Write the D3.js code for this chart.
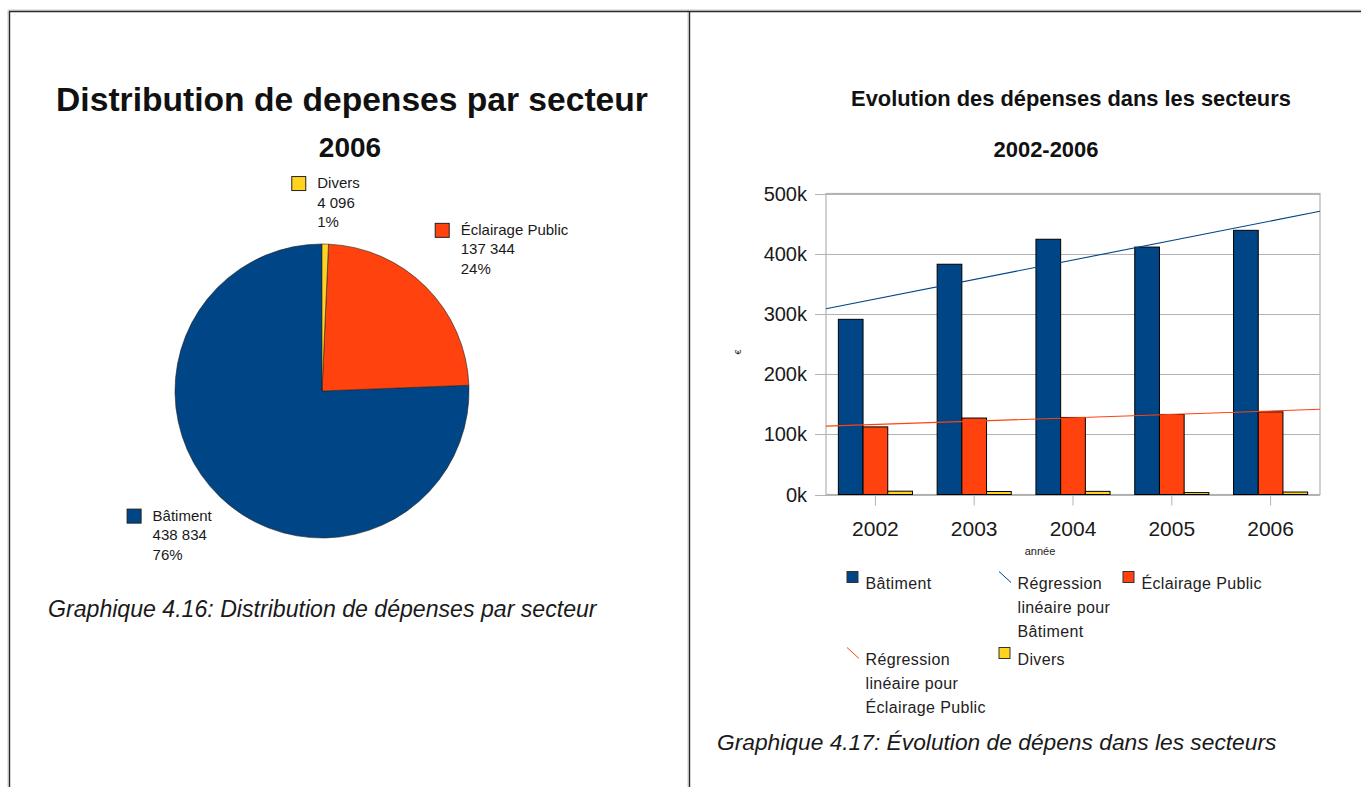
<!DOCTYPE html>
<html lang="fr">
<head>
<meta charset="utf-8"/>
<title>Dépenses par secteur</title>
<style>
    body { margin: 0; background: #fff; }
    svg { display: block; }
    .grid line { stroke: #b3b3b3; stroke-width: 1; }
    .bar { stroke: #000; stroke-width: 1; }
</style>
</head>
<body>
<svg id="page" width="1361" height="787"></svg>
<script src="https://cdnjs.cloudflare.com/ajax/libs/d3/7.8.5/d3.min.js"></script>
<script>
    // --- pie data (2006)
    var pieCategories = ["Bâtiment", "Éclairage Public", "Divers"];
    var pieValues = [438834, 137344, 4096];

    // --- bar data (2002-2006)
    var years = ["2002", "2003", "2004", "2005", "2006"];
    var batiment = [291000, 382500, 424000, 411000, 438834];
    var eclairage = [112300, 127000, 128000, 133000, 137344];
    var divers = [5500, 5000, 5200, 3200, 4096];
    var yTicks = [0, 100000, 200000, 300000, 400000, 500000];

    var colors = { "Bâtiment": "#004586", "Éclairage Public": "#ff420e", "Divers": "#ffd320" };

    var svg = d3.select("#page");
    var font = '"Liberation Sans", Arial, sans-serif';

    // make a text element reach a given width
    function fit(t, w) {
        var s = parseFloat(t.attr("font-size"));
        t.attr("font-size", s * w / t.node().getComputedTextLength());
        return t;
    }

    // page frame
    var frame = svg.append("g");
    [[8, 10, 1361, 10], [8, 10, 8, 787], [688, 10, 688, 787]].forEach(function (l) {
        frame.append("line").attr("x1", l[0]).attr("y1", l[1]).attr("x2", l[2]).attr("y2", l[3])
            .attr("stroke", "#c8c8c8").attr("stroke-width", 1);
    });
    [[9, 11.5, 1361, 11.5], [9.5, 11, 9.5, 787], [689.5, 11, 689.5, 787]].forEach(function (l) {
        frame.append("line").attr("x1", l[0]).attr("y1", l[1]).attr("x2", l[2]).attr("y2", l[3])
            .attr("stroke", "#2a2a2a").attr("stroke-width", 1.4);
    });

    // ================= PIE =================
    var cx = 322, cy = 391, radius = 147;

    fit(svg.append("text").attr("x", 352).attr("y", 111).attr("text-anchor", "middle")
        .attr("font-family", font).attr("font-weight", "bold").attr("font-size", 32)
        .attr("fill", "#111").text("Distribution de depenses par secteur"), 592);
    svg.append("text").attr("x", 350).attr("y", 157).attr("text-anchor", "middle")
        .attr("font-family", font).attr("font-weight", "bold").attr("font-size", 28)
        .attr("fill", "#111").text("2006");

    var pieData = pieCategories.map(function (c, i) { return { name: c, value: pieValues[i] }; });
    var total = d3.sum(pieValues);

    // counter-clockwise from 12 o'clock
    var pie = d3.pie().sort(null).value(function (d) { return d.value; })
        .startAngle(2 * Math.PI).endAngle(0);
    var arc = d3.arc().innerRadius(0).outerRadius(radius);

    var pg = svg.append("g").attr("transform", "translate(" + cx + "," + cy + ")");
    var arcs = pie(pieData);
    pg.selectAll("path").data(arcs).enter().append("path")
        .attr("d", arc)
        .attr("fill", function (d) { return colors[d.data.name]; })
        .attr("stroke", "#222").attr("stroke-width", 0.6);

    var fmtNum = function (v) { return d3.format(",")(v).replace(/,/g, " "); };
    var fmtPct = d3.format(".0%");

    arcs.forEach(function (d) {
        var a = (d.startAngle + d.endAngle) / 2;
        var px = cx + 159 * Math.sin(a), py = cy - 159 * Math.cos(a);
        var g = svg.append("g");
        var lines = [d.data.name, fmtNum(d.data.value), fmtPct(d.data.value / total)];
        var tw = 0;
        lines.forEach(function (s, k) {
            var t = g.append("text").attr("x", 26).attr("y", 12 + k * 19.5)
                .attr("font-family", font).attr("font-size", 15).attr("fill", "#1a1a1a").text(s);
            tw = Math.max(tw, t.node().getComputedTextLength());
        });
        g.append("rect").attr("x", 0.5).attr("y", 0.5).attr("width", 14).attr("height", 14)
            .attr("fill", colors[d.data.name]).attr("stroke", "#222").attr("stroke-width", 1);
        var bw = 26 + tw, bh = 56;
        var s = Math.sin(a), c = Math.cos(a);
        var bx = s > 0.1 ? px : (s < -0.1 ? px - bw : px - bw / 2);
        var by = c > 0 ? py - bh : py + 3;
        g.attr("transform", "translate(" + bx + "," + by + ")");
    });

    fit(svg.append("text").attr("x", 48).attr("y", 617)
        .attr("font-family", font).attr("font-style", "italic").attr("font-size", 19)
        .attr("fill", "#1a1a1a").text("Graphique 4.16: Distribution de dépenses par secteur"), 549);

    // ================= BARS =================
    var plotL = 826, plotR = 1320, plotT = 193.5, plotB = 494.5;

    fit(svg.append("text").attr("x", 1071).attr("y", 106).attr("text-anchor", "middle")
        .attr("font-family", font).attr("font-weight", "bold").attr("font-size", 18)
        .attr("fill", "#111").text("Evolution des dépenses dans les secteurs"), 440);
    fit(svg.append("text").attr("x", 1046).attr("y", 157).attr("text-anchor", "middle")
        .attr("font-family", font).attr("font-weight", "bold").attr("font-size", 18)
        .attr("fill", "#111").text("2002-2006"), 105);

    var x = d3.scaleBand().domain(years).range([plotL, plotR]);
    var y = d3.scaleLinear().domain([0, 500000]).range([plotB, plotT]);
    var series = [
        { name: "Bâtiment", values: batiment },
        { name: "Éclairage Public", values: eclairage },
        { name: "Divers", values: divers }
    ];
    var xs = d3.scaleBand().domain(series.map(function (s) { return s.name; }))
        .range([x.bandwidth() * 0.125, x.bandwidth() * 0.875]);

    // gridlines + y axis
    var grid = svg.append("g").attr("class", "grid");
    grid.selectAll("line").data(yTicks).enter().append("line")
        .attr("x1", plotL - 11).attr("x2", plotR)
        .attr("y1", function (d) { return Math.round(y(d)) + 0.5; })
        .attr("y2", function (d) { return Math.round(y(d)) + 0.5; });

    svg.append("rect").attr("x", plotL).attr("y", plotT).attr("width", plotR - plotL).attr("height", plotB - plotT)
        .attr("fill", "none").attr("stroke", "#b3b3b3").attr("stroke-width", 1.2);

    svg.append("g").selectAll("text").data(yTicks).enter().append("text")
        .attr("x", 807).attr("y", function (d) { return y(d) + 7; })
        .attr("text-anchor", "end").attr("font-family", font).attr("font-size", 20)
        .attr("fill", "#1a1a1a").text(function (d) { return d / 1000 + "k"; });

    // x ticks and labels
    var xg = svg.append("g");
    xg.selectAll("line").data(years).enter().append("line")
        .attr("x1", function (d) { return x(d) + x.bandwidth() / 2; })
        .attr("x2", function (d) { return x(d) + x.bandwidth() / 2; })
        .attr("y1", plotB).attr("y2", plotB + 11)
        .attr("stroke", "#b3b3b3").attr("stroke-width", 1);
    xg.selectAll("text").data(years).enter().append("text")
        .attr("x", function (d) { return x(d) + x.bandwidth() / 2; })
        .attr("y", 536).attr("text-anchor", "middle")
        .attr("font-family", font).attr("font-size", 21).attr("fill", "#1a1a1a")
        .text(function (d) { return d; });

    // bars
    series.forEach(function (s) {
        svg.append("g").selectAll("rect").data(s.values).enter().append("rect")
            .attr("class", "bar")
            .attr("x", function (d, i) { return x(years[i]) + xs(s.name); })
            .attr("width", xs.bandwidth())
            .attr("y", function (d) { return y(d); })
            .attr("height", function (d) { return plotB - y(d); })
            .attr("fill", colors[s.name]);
    });

    // linear regression lines over the whole plot width
    var xc = d3.scaleLinear().domain([0.5, years.length + 0.5]).range([plotL, plotR]);
    function regression(vals) {
        var xsv = vals.map(function (d, i) { return i + 1; });
        var mx = d3.mean(xsv), my = d3.mean(vals);
        var num = d3.sum(vals, function (v, i) { return (xsv[i] - mx) * (v - my); });
        var den = d3.sum(xsv, function (v) { return (v - mx) * (v - mx); });
        var b = num / den;
        return function (t) { return my + b * (t - mx); };
    }
    [series[0], series[1]].forEach(function (s) {
        var f = regression(s.values);
        var ends = [0.5, years.length + 0.5];
        svg.append("path")
            .attr("d", d3.line().x(function (t) { return xc(t); }).y(function (t) { return y(f(t)); })(ends))
            .attr("stroke", colors[s.name]).attr("stroke-width", 1.1).attr("fill", "none");
    });

    // axis titles
    svg.append("text").attr("transform", "translate(741,352) rotate(-90)")
        .attr("text-anchor", "middle").attr("font-family", font).attr("font-size", 9)
        .attr("fill", "#222").text("€");
    svg.append("text").attr("x", 1040).attr("y", 555).attr("text-anchor", "middle")
        .attr("font-family", font).attr("font-size", 11).attr("fill", "#222").text("année");

    // legend
    var legendItems = [
        { key: "Bâtiment", kind: "box", lines: ["Bâtiment"] },
        { key: "Bâtiment", kind: "line", lines: ["Régression", "linéaire pour", "Bâtiment"] },
        { key: "Éclairage Public", kind: "box", lines: ["Éclairage Public"] },
        { key: "Éclairage Public", kind: "line", lines: ["Régression", "linéaire pour", "Éclairage Public"] },
        { key: "Divers", kind: "box", lines: ["Divers"] }
    ];
    var colX = [847, 999, 1123], rowY = [571.5, 647.5];
    legendItems.forEach(function (it, i) {
        var g = svg.append("g")
            .attr("transform", "translate(" + colX[i % 3] + "," + rowY[Math.floor(i / 3)] + ")");
        if (it.kind === "box") {
            g.append("rect").attr("x", 0).attr("y", 0).attr("width", 11).attr("height", 11)
                .attr("fill", colors[it.key]).attr("stroke", "#333").attr("stroke-width", 1);
        } else {
            g.append("line").attr("x1", 0).attr("y1", 0).attr("x2", 12).attr("y2", 11)
                .attr("stroke", colors[it.key]).attr("stroke-width", 1);
        }
        it.lines.forEach(function (s, k) {
            g.append("text").attr("x", 18.5).attr("y", 17.5 + k * 23.8)
                .attr("font-family", font).attr("font-size", 16).attr("letter-spacing", 0.35)
                .attr("fill", "#222").text(s);
        });
    });

    fit(svg.append("text").attr("x", 717).attr("y", 750)
        .attr("font-family", font).attr("font-style", "italic").attr("font-size", 19)
        .attr("fill", "#1a1a1a").text("Graphique 4.17: Évolution de dépens dans les secteurs"), 560);
</script>
</body>
</html>
